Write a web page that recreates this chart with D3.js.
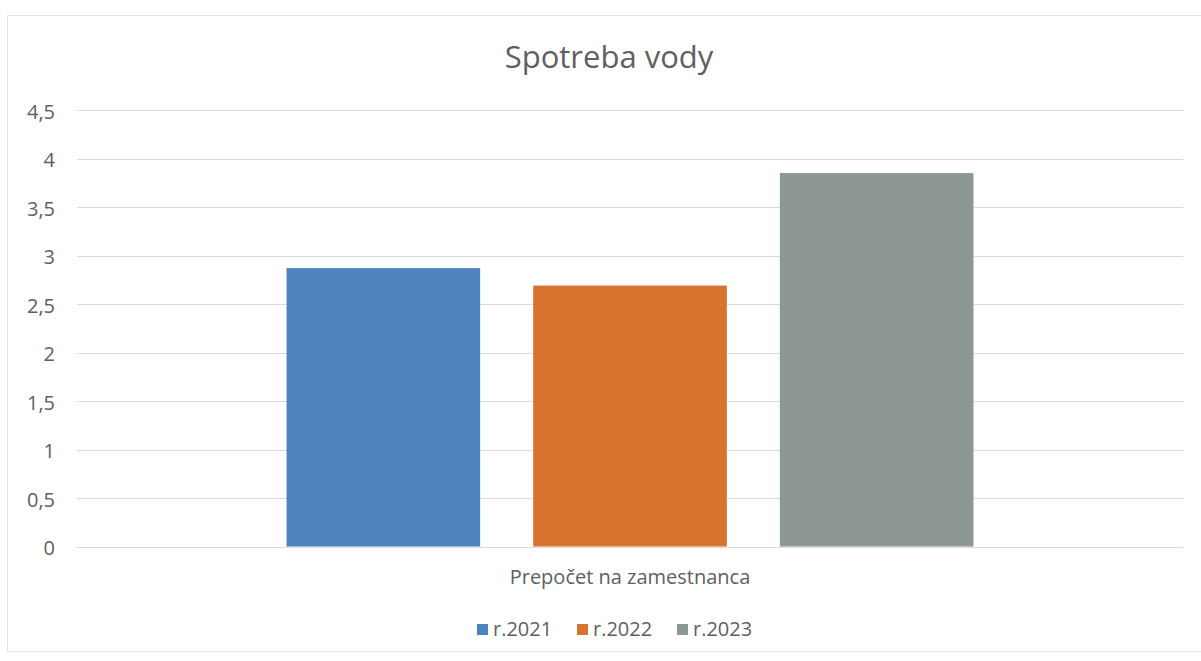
<!DOCTYPE html>
<html>
<head>
<meta charset="utf-8">
<script src="https://cdn.jsdelivr.net/npm/d3@7"></script>
<style>
  html, body { margin: 0; padding: 0; background: #ffffff; }
  svg { display: block; }
</style>
</head>
<body>
<svg id="chart" width="1201" height="661"></svg>
<script>
const title = "Spotreba vody";
const categories = ["Prepočet na zamestnanca"];
const seriesNames = ["r.2021", "r.2022", "r.2023"];
const seriesValues = [2.87, 2.69, 3.85];
const yTicks = [0, 0.5, 1, 1.5, 2, 2.5, 3, 3.5, 4, 4.5];
const colors = ["#4d83bf", "#d8732f", "#8d9893"];

const svg = d3.select("#chart");
const W = 1201, H = 661;
const m = { left: 77, right: 1183, top: 110, bottom: 546.5 };
const font = "'Open Sans', 'Liberation Sans', sans-serif";
const textColor = "#606060";

// chart border (faint)
svg.append("path")
  .attr("d", `M${W + 5},15.5 H7.5 V651.5 H${W + 5}`)
  .attr("fill", "none").attr("stroke", "#e2e2e2").attr("stroke-width", 1);

const y = d3.scaleLinear().domain([0, 4.5]).range([m.bottom, m.top]);
const x0 = d3.scaleBand().domain(categories).range([m.left, m.right])
  .paddingInner(0).paddingOuter(0.305);
const x1 = d3.scaleBand().domain(seriesNames).range([0, x0.bandwidth()])
  .paddingInner(0.215).paddingOuter(0);

// gridlines
svg.append("g").selectAll("line").data(yTicks).join("line")
  .attr("x1", m.left).attr("x2", m.right)
  .attr("y1", d => Math.round(y(d)) + 0.5).attr("y2", d => Math.round(y(d)) + 0.5)
  .attr("stroke", "#dadada").attr("stroke-width", 1);

// y axis labels
const fmt = d => String(d).replace(".", ",");
const yAxis = d3.axisLeft(y).tickValues(yTicks).tickFormat(fmt).tickSize(0).tickPadding(0);
const gy = svg.append("g").attr("transform", `translate(55,0)`).call(yAxis);
gy.select(".domain").remove();
gy.selectAll("text")
  .attr("font-family", font).attr("font-size", 20).attr("fill", textColor)
  .attr("dy", "0.42em");

// bars
const g = svg.append("g");
categories.forEach(cat => {
  g.selectAll("rect.bar").data(seriesNames.map((s, i) => ({ s, v: seriesValues[i], i })))
    .join("rect").attr("class", "bar")
    .attr("x", d => x0(cat) + x1(d.s))
    .attr("width", x1.bandwidth())
    .attr("y", d => y(d.v))
    .attr("height", d => y(0) - y(d.v))
    .attr("fill", d => colors[d.i]);
});

// category axis label
const xAxis = d3.axisBottom(x0).tickSize(0).tickPadding(0);
const gx = svg.append("g").attr("transform", `translate(0,${m.bottom})`).call(xAxis);
gx.select(".domain").remove();
gx.selectAll("text")
  .attr("font-family", font).attr("font-size", 20).attr("fill", textColor)
  .attr("dy", null).attr("y", 37);

// title
svg.append("text").attr("x", 609).attr("y", 68).attr("text-anchor", "middle")
  .attr("font-family", font).attr("font-size", 31).attr("fill", textColor)
  .text(title);

// legend
const legendX = [477, 577, 677];
const lg = svg.append("g");
seriesNames.forEach((s, i) => {
  lg.append("rect").attr("x", legendX[i]).attr("y", 624).attr("width", 11).attr("height", 11)
    .attr("fill", colors[i]);
  lg.append("text").attr("x", legendX[i] + 16).attr("y", 636)
    .attr("font-family", font).attr("font-size", 20).attr("fill", textColor)
    .text(s);
});
</script>
</body>
</html>
